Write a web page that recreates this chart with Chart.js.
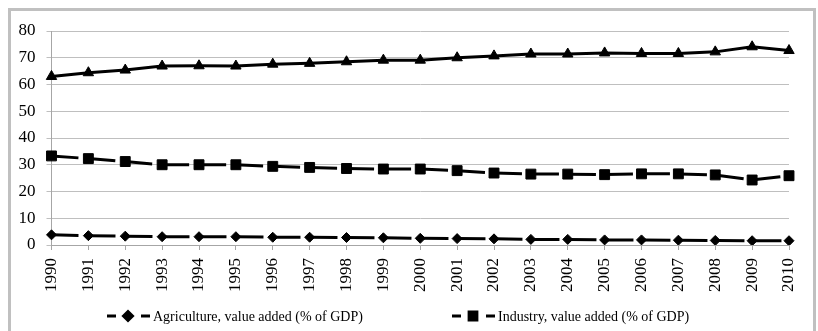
<!DOCTYPE html>
<html>
<head>
<meta charset="utf-8">
<script src="https://cdn.jsdelivr.net/npm/chart.js@4/dist/chart.umd.min.js"></script>
<style>
  html, body { margin: 0; padding: 0; background: #ffffff; overflow: hidden; }
  #frame {
    position: absolute; left: 8px; top: 8px; width: 802px; height: 360px;
    border: 3px solid #c0c0c0; box-sizing: content-box;
  }
  #wrap { position: absolute; left: 0; top: 0; width: 818px; height: 331px; }
</style>
</head>
<body>
<div id="frame"></div>
<div id="wrap"><canvas id="chart" width="818" height="331"></canvas></div>
<script>
// Value added by sector, % of GDP
const years = ['1990','1991','1992','1993','1994','1995','1996','1997','1998','1999','2000',
               '2001','2002','2003','2004','2005','2006','2007','2008','2009','2010'];
const agriculture = [3.8, 3.5, 3.3, 3.1, 3.1, 3.1, 2.9, 2.9, 2.8, 2.7, 2.5,
                     2.4, 2.3, 2.1, 2.1, 1.9, 1.9, 1.8, 1.7, 1.6, 1.6];
const industry    = [33.3, 32.3, 31.2, 30.0, 30.0, 30.0, 29.4, 29.0, 28.6, 28.4, 28.4,
                     27.8, 26.9, 26.5, 26.5, 26.3, 26.6, 26.6, 26.2, 24.3, 25.9];
const services    = [63.0, 64.4, 65.4, 66.9, 67.0, 66.9, 67.6, 67.9, 68.5, 69.1, 69.1,
                     70.0, 70.7, 71.4, 71.4, 71.8, 71.6, 71.6, 72.2, 74.1, 72.7];
const yTicks = [0, 10, 20, 30, 40, 50, 60, 70, 80];
const keyLabels = ['Agriculture, value added (% of GDP)', 'Industry, value added (% of GDP)'];

const FONT = '"Liberation Serif", "Times New Roman", serif';

// Legend row under the axis: dash, marker, dash, then the label
const seriesKey = {
  id: 'seriesKey',
  afterDraw(chart) {
    const ctx = chart.ctx;
    const y = 316;
    const starts = [107, 452];
    const keyRadius = [4.5, 5.5];
    ctx.save();
    keyLabels.forEach((label, i) => {
      const ds = chart.data.datasets[i];
      const x0 = starts[i];
      ctx.strokeStyle = '#000';
      ctx.lineWidth = 3;
      ctx.setLineDash([]);
      ctx.beginPath();
      ctx.moveTo(x0, y); ctx.lineTo(x0 + 9, y);
      ctx.moveTo(x0 + 34, y); ctx.lineTo(x0 + 43, y);
      ctx.stroke();
      ctx.fillStyle = '#000';
      Chart.helpers.drawPoint(ctx, {
        pointStyle: ds.pointStyle, radius: keyRadius[i], borderWidth: 1, rotation: 0
      }, x0 + 21, y);
      ctx.fillStyle = '#000';
      ctx.font = '14px ' + FONT;
      ctx.textBaseline = 'middle';
      ctx.textAlign = 'left';
      ctx.fillText(label, x0 + 46, y + 1);
    });
    ctx.restore();
  }
};

const common = {
  borderColor: '#000', backgroundColor: '#000',
  pointBackgroundColor: '#000', pointBorderColor: '#000', pointBorderWidth: 1,
  borderWidth: 3, tension: 0, fill: false
};

new Chart(document.getElementById('chart'), {
  type: 'line',
  data: {
    labels: years,
    datasets: [
      Object.assign({ label: keyLabels[0], data: agriculture, pointStyle: 'rectRot', pointRadius: 5,
                      borderDash: [27, 10] }, common),
      Object.assign({ label: keyLabels[1], data: industry, pointStyle: 'rect', pointRadius: 7,
                      borderDash: [27, 10] }, common),
      Object.assign({ label: 'Services, value added (% of GDP)', data: services, pointStyle: 'triangle',
                      pointRadius: 6 }, common)
    ]
  },
  options: {
    responsive: false,
    animation: false,
    layout: { padding: { left: 0, right: 29, top: 31, bottom: 0 } },
    plugins: { legend: { display: false }, tooltip: { enabled: false } },
    scales: {
      x: {
        offset: false,
        grid: { display: true, drawOnChartArea: false, drawTicks: true, tickLength: 5, color: '#a6a6a6' },
        border: { display: true, color: '#a6a6a6', width: 1 },
        ticks: {
          color: '#000', font: { family: FONT, size: 17 }, minRotation: 90, maxRotation: 90,
          autoSkip: false, padding: 8
        },
        afterFit(s) { s.height = 86; }
      },
      y: {
        min: 0, max: 80,
        afterBuildTicks(s) { s.ticks = yTicks.map(v => ({ value: v })); },
        grid: { color: '#bfbfbf', lineWidth: 1, drawTicks: true, tickLength: 5 },
        border: { display: true, color: '#a6a6a6', width: 1 },
        ticks: { color: '#000', font: { family: FONT, size: 17 }, padding: 11 },
        afterFit(s) { s.width = 51.5; }
      }
    }
  },
  plugins: [seriesKey]
});
</script>
</body>
</html>
